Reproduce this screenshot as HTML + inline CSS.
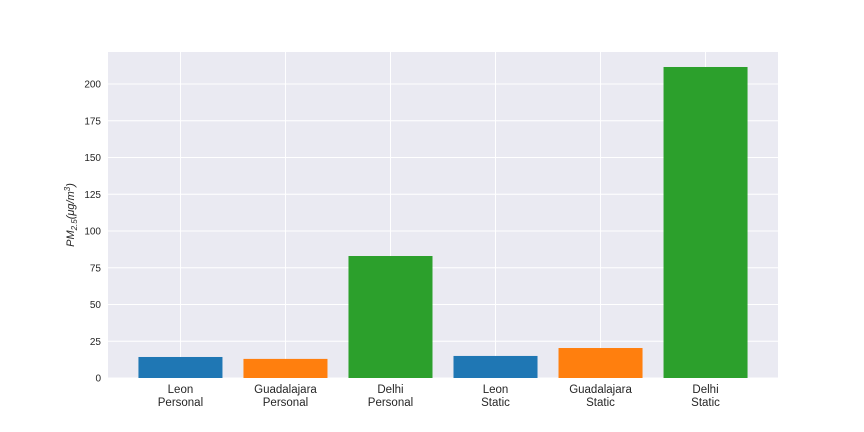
<!DOCTYPE html>
<html><head><meta charset="utf-8"><style>body{margin:0;background:#fff}svg{display:block}text{font-family:"Liberation Sans","DejaVu Sans",sans-serif}</style></head>
<body>
<svg id="c" width="864" height="432"></svg>
<script>
const categories=["Leon\nPersonal","Guadalajara\nPersonal","Delhi\nPersonal","Leon\nStatic","Guadalajara\nStatic","Delhi\nStatic"];
const values=[14.3,13.0,83.0,15.0,20.4,211.6];
const colors=["#1f77b4","#ff7f0e","#2ca02c","#1f77b4","#ff7f0e","#2ca02c"];
const yTicks=[0,25,50,75,100,125,150,175,200];
const L=108,R=778,T=52,B=378,ymax=221.8,xmin=-0.69,xmax=5.69;
const NS="http://www.w3.org/2000/svg";
const svg=document.getElementById('c');
function sx(i){return L+(i-xmin)/(xmax-xmin)*(R-L);}
function sy(v){return B-v/ymax*(B-T);}
function mk(t,a,p){const e=document.createElementNS(NS,t);for(const k in a)e.setAttribute(k,a[k]);(p||svg).appendChild(e);return e;}
const bg=mk('rect',{x:L,y:T,width:R-L,height:B-T,fill:'#eaeaf2'});


yTicks.forEach(v=>{
  const g=mk('line',{x1:L,x2:R,y1:sy(v),y2:sy(v),stroke:'#fff','stroke-width':1});
  
  
  const t=mk('text',{x:L-7,y:sy(v)+3.5,'text-anchor':'end','font-size':10,fill:'#262626'});
  t.textContent=v;
  
  
});
categories.forEach((c,i)=>{
  const g=mk('line',{x1:sx(i),x2:sx(i),y1:T,y2:B,stroke:'#fff','stroke-width':1});
  
  
});
categories.forEach((c,i)=>{
  const w=0.8/(xmax-xmin)*(R-L);
  const r=mk('rect',{x:sx(i)-w/2,y:sy(values[i]),width:w,height:B-sy(values[i]),fill:colors[i]});
  
  
  const t=mk('text',{x:sx(i),y:B+15,'text-anchor':'middle','font-size':11.5,fill:'#262626'});
  
  
  c.split('\n').forEach((s,k)=>{const ts=mk('tspan',{x:sx(i),dy:k?13:0},t);ts.textContent=s;});
});
const yl=mk('text',{transform:'translate(74,215) rotate(-90)','text-anchor':'middle','font-size':11,'font-style':'italic',fill:'#262626'});


yl.innerHTML='PM<tspan font-size="8" dy="3">2.5</tspan><tspan dy="-3">(μg/m</tspan><tspan font-size="8" dy="-4">3</tspan><tspan dy="4">)</tspan>';
</script>
</body></html>
